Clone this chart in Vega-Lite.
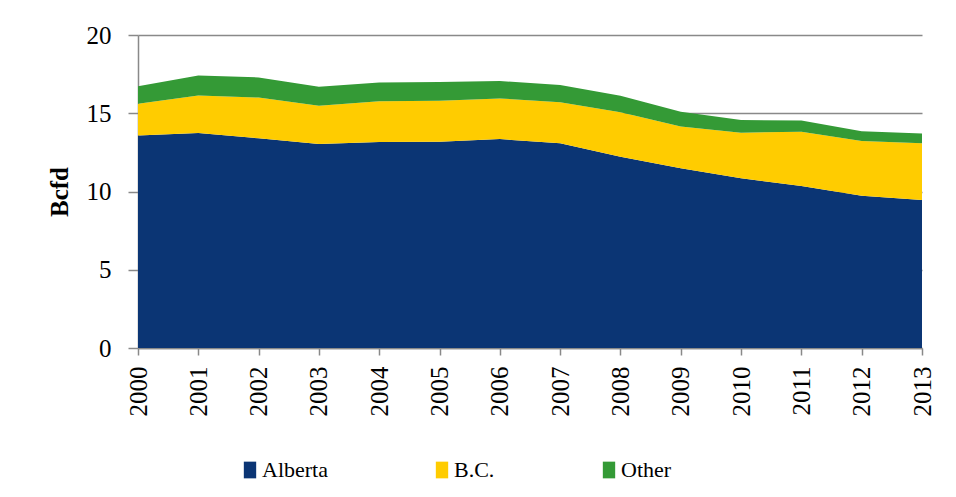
{
  "$schema": "https://vega.github.io/schema/vega-lite/v6.json",
  "width": 784,
  "height": 313,
  "autosize": {"type": "none"},
  "padding": {"left": 138, "top": 35, "right": 34, "bottom": 149},
  "background": "white",
  "config": {
    "font": "Liberation Serif",
    "view": {"stroke": null},
    "axis": {"labelFont": "Liberation Serif", "titleFont": "Liberation Serif"},
    "legend": {"labelFont": "Liberation Serif", "titleFont": "Liberation Serif"}
  },
  "data": {
    "values": [
      {"year": 2000, "region": "Alberta", "value": 13.58},
      {"year": 2001, "region": "Alberta", "value": 13.74},
      {"year": 2002, "region": "Alberta", "value": 13.40},
      {"year": 2003, "region": "Alberta", "value": 13.03},
      {"year": 2004, "region": "Alberta", "value": 13.16},
      {"year": 2005, "region": "Alberta", "value": 13.18},
      {"year": 2006, "region": "Alberta", "value": 13.35},
      {"year": 2007, "region": "Alberta", "value": 13.08},
      {"year": 2008, "region": "Alberta", "value": 12.22},
      {"year": 2009, "region": "Alberta", "value": 11.48},
      {"year": 2010, "region": "Alberta", "value": 10.84},
      {"year": 2011, "region": "Alberta", "value": 10.35},
      {"year": 2012, "region": "Alberta", "value": 9.73},
      {"year": 2013, "region": "Alberta", "value": 9.46},
      {"year": 2000, "region": "B.C.", "value": 2.03},
      {"year": 2001, "region": "B.C.", "value": 2.40},
      {"year": 2002, "region": "B.C.", "value": 2.60},
      {"year": 2003, "region": "B.C.", "value": 2.45},
      {"year": 2004, "region": "B.C.", "value": 2.60},
      {"year": 2005, "region": "B.C.", "value": 2.62},
      {"year": 2006, "region": "B.C.", "value": 2.60},
      {"year": 2007, "region": "B.C.", "value": 2.62},
      {"year": 2008, "region": "B.C.", "value": 2.84},
      {"year": 2009, "region": "B.C.", "value": 2.68},
      {"year": 2010, "region": "B.C.", "value": 2.92},
      {"year": 2011, "region": "B.C.", "value": 3.47},
      {"year": 2012, "region": "B.C.", "value": 3.50},
      {"year": 2013, "region": "B.C.", "value": 3.62},
      {"year": 2000, "region": "Other", "value": 1.11},
      {"year": 2001, "region": "Other", "value": 1.28},
      {"year": 2002, "region": "Other", "value": 1.29},
      {"year": 2003, "region": "Other", "value": 1.22},
      {"year": 2004, "region": "Other", "value": 1.21},
      {"year": 2005, "region": "Other", "value": 1.19},
      {"year": 2006, "region": "Other", "value": 1.11},
      {"year": 2007, "region": "Other", "value": 1.10},
      {"year": 2008, "region": "Other", "value": 1.06},
      {"year": 2009, "region": "Other", "value": 0.94},
      {"year": 2010, "region": "Other", "value": 0.81},
      {"year": 2011, "region": "Other", "value": 0.71},
      {"year": 2012, "region": "Other", "value": 0.62},
      {"year": 2013, "region": "Other", "value": 0.62}
    ]
  },
  "mark": {"type": "area", "interpolate": "linear"},
  "encoding": {
    "x": {
      "field": "year",
      "type": "ordinal",
      "scale": {"type": "point", "padding": 0},
      "axis": {
        "title": null,
        "labelAngle": -90,
        "labelFontSize": 25,
        "labelColor": "black",
        "domainColor": "#898989",
        "domainWidth": 1.5,
        "tickColor": "#898989",
        "tickWidth": 1.5,
        "tickSize": 7,
        "labelPadding": 11,
        "grid": false
      }
    },
    "y": {
      "field": "value",
      "type": "quantitative",
      "stack": "zero",
      "scale": {"domain": [0, 20]},
      "axis": {
        "title": "Bcfd",
        "titleFontSize": 25,
        "titleFontWeight": "bold",
        "titleColor": "black",
        "titlePadding": 14,
        "values": [0, 5, 10, 15, 20],
        "labelFontSize": 25,
        "labelColor": "black",
        "labelPadding": 17,
        "tickSize": 10,
        "tickColor": "#898989",
        "tickWidth": 1.5,
        "domainColor": "#898989",
        "domainWidth": 1.5,
        "gridColor": "#898989",
        "gridWidth": 1.5
      }
    },
    "order": {"field": "region", "sort": "ascending"},
    "color": {
      "field": "region",
      "type": "nominal",
      "scale": {"domain": ["Alberta", "B.C.", "Other"], "range": ["#0B3574", "#FFCC00", "#349A36"]},
      "legend": {
        "orient": "none",
        "legendX": 101,
        "legendY": 424,
        "direction": "horizontal",
        "title": null,
        "symbolType": "M -0.74 -1 L 0.74 -1 L 0.74 1 L -0.74 1 Z",
        "symbolSize": 279,
        "symbolStrokeWidth": 0,
        "symbolOpacity": 1,
        "labelFontSize": 22,
        "labelColor": "black",
        "labelOffset": 1,
        "columnPadding": 103
      }
    }
  }
}
